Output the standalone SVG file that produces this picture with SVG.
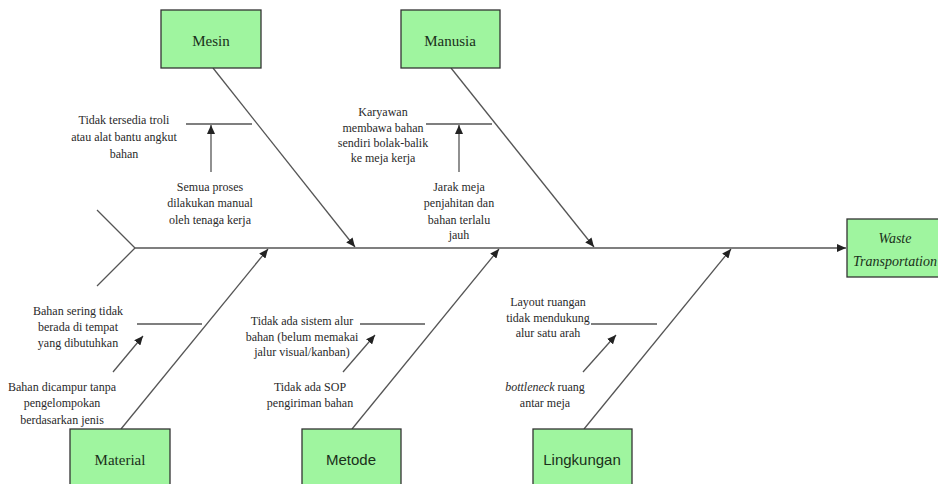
<svg xmlns="http://www.w3.org/2000/svg" width="938" height="484" viewBox="0 0 938 484">
<defs>
<marker id="ah" markerUnits="userSpaceOnUse" markerWidth="10" markerHeight="8" refX="9" refY="4" orient="auto">
<path d="M0,0 L9,4 L0,8 Z" fill="#222"/>
</marker>
<style>
.box{fill:#9ff59f;stroke:#333;stroke-width:1.3}
.ln{stroke:#555;stroke-width:1.3;fill:none}
.ar{stroke:#555;stroke-width:1.3;fill:none;marker-end:url(#ah)}
.t{font-family:'Liberation Serif','DejaVu Serif',serif;font-size:12px;fill:#2a2a2a;text-anchor:middle}
.bl{font-family:'Liberation Serif','DejaVu Serif',serif;font-size:15px;fill:#1a301a;text-anchor:middle}
.bs{font-family:'Liberation Sans',Arial,sans-serif;font-size:15px;fill:#1a301a;text-anchor:middle}
.it{font-style:italic}
</style>
</defs>
<rect width="938" height="484" fill="#fff"/>
<g id="connectors">
<line class="ln" x1="97" y1="210" x2="135" y2="248"/>
<line class="ln" x1="97" y1="286" x2="135" y2="248"/>
<line class="ar" x1="135" y1="248" x2="846" y2="248"/>
<line class="ar" x1="213" y1="68" x2="355" y2="247"/>
<line class="ar" x1="451" y1="68" x2="594" y2="247"/>
<line class="ar" x1="121" y1="429" x2="268" y2="249"/>
<line class="ar" x1="352" y1="429" x2="499" y2="249"/>
<line class="ar" x1="584" y1="429" x2="731" y2="249"/>
<line class="ln" x1="186" y1="124" x2="252" y2="124"/>
<line class="ar" x1="211" y1="172" x2="211" y2="125"/>
<line class="ln" x1="426" y1="124" x2="492" y2="124"/>
<line class="ar" x1="459" y1="172" x2="459" y2="125"/>
<line class="ln" x1="137" y1="324" x2="202" y2="324"/>
<line class="ar" x1="113" y1="372" x2="143" y2="336"/>
<line class="ln" x1="360" y1="324" x2="425" y2="324"/>
<line class="ar" x1="343" y1="372" x2="375" y2="335"/>
<line class="ln" x1="591" y1="324" x2="657" y2="324"/>
<line class="ar" x1="583" y1="372" x2="616" y2="335"/>
</g>
<g id="mesin"><rect class="box" x="161" y="10" width="100" height="58"/><text class="bl" font-family="Liberation Serif, serif" x="211" y="46">Mesin</text></g>
<g id="manusia"><rect class="box" x="401" y="10" width="99" height="58"/><text class="bl" x="450" y="46">Manusia</text></g>
<g id="material"><rect class="box" x="70" y="429" width="100" height="60"/><text class="bl" x="120" y="465">Material</text></g>
<g id="metode"><rect class="box" x="302" y="429" width="99" height="60"/><text class="bs" x="351" y="465">Metode</text></g>
<g id="lingkungan"><rect class="box" x="533" y="429" width="99" height="60"/><text class="bs" x="582" y="465">Lingkungan</text></g>
<g id="waste"><rect class="box" x="847" y="219" width="95" height="58"/><text class="bl it" x="895" y="243" style="font-size:14px">Waste</text><text class="bl it" x="895" y="266" style="font-size:14px">Transportation</text></g>
<g id="c-mesin1"><text class="t" x="124" y="124">Tidak tersedia troli</text><text class="t" x="124" y="141">atau alat bantu angkut</text><text class="t" x="124" y="158">bahan</text></g>
<g id="c-mesin2"><text class="t" x="210" y="191">Semua proses</text><text class="t" x="210" y="207">dilakukan manual</text><text class="t" x="210" y="224">oleh tenaga kerja</text></g>
<g id="c-manusia1"><text class="t" x="383" y="116">Karyawan</text><text class="t" x="383" y="132">membawa bahan</text><text class="t" x="383" y="147">sendiri bolak-balik</text><text class="t" x="383" y="162">ke meja kerja</text></g>
<g id="c-manusia2"><text class="t" x="459" y="191">Jarak meja</text><text class="t" x="459" y="207">penjahitan dan</text><text class="t" x="459" y="224">bahan terlalu</text><text class="t" x="459" y="239">jauh</text></g>
<g id="c-material1"><text class="t" x="78" y="315">Bahan sering tidak</text><text class="t" x="78" y="331">berada di tempat</text><text class="t" x="78" y="347">yang dibutuhkan</text></g>
<g id="c-material2"><text class="t" x="62" y="391">Bahan dicampur tanpa</text><text class="t" x="62" y="407">pengelompokan</text><text class="t" x="62" y="424">berdasarkan jenis</text></g>
<g id="c-metode1"><text class="t" x="302" y="325">Tidak ada sistem alur</text><text class="t" x="302" y="341">bahan (belum memakai</text><text class="t" x="302" y="356">jalur visual/kanban)</text></g>
<g id="c-metode2"><text class="t" x="310" y="391">Tidak ada SOP</text><text class="t" x="310" y="407">pengiriman bahan</text></g>
<g id="c-lingkungan1"><text class="t" x="548" y="306">Layout ruangan</text><text class="t" x="548" y="322">tidak mendukung</text><text class="t" x="548" y="337">alur satu arah</text></g>
<g id="c-lingkungan2"><text class="t" x="545" y="391"><tspan class="it">bottleneck</tspan> ruang</text><text class="t" x="545" y="407">antar meja</text></g>
</svg>
